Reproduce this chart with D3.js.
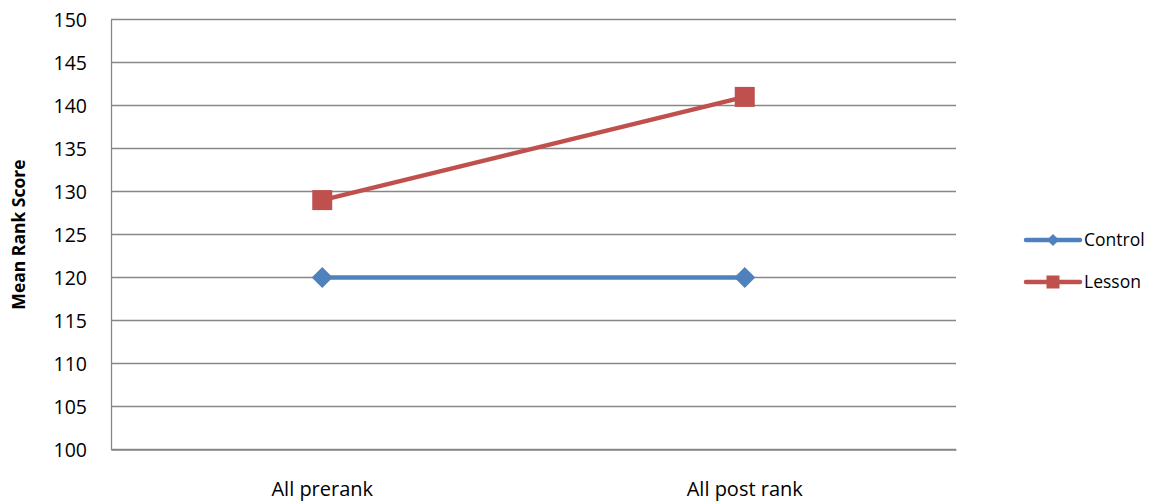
<!DOCTYPE html>
<html>
<head>
<meta charset="utf-8">
<script src="https://cdn.jsdelivr.net/npm/d3@7"></script>
<style>
  html, body { margin: 0; padding: 0; background: #fff; }
  svg text { font-family: "Open Sans", sans-serif; fill: #000; }
</style>
</head>
<body>
<svg id="chart" width="1150" height="502"></svg>
<script>
// Mean rank scores before and after the lesson
const categories = ["All prerank", "All post rank"];
const controlValues = [120, 120];
const lessonValues = [129, 141];
const yTicks = [100, 105, 110, 115, 120, 125, 130, 135, 140, 145, 150];
const seriesNames = ["Control", "Lesson"];

const series = [
  { name: seriesNames[0], values: controlValues, color: "#4F81BD", marker: "diamond" },
  { name: seriesNames[1], values: lessonValues, color: "#C0504D", marker: "square" }
];

const svg = d3.select("#chart");
const plot = { left: 111, right: 956, top: 19.5, bottom: 449.5 };

const x = d3.scaleBand().domain(categories).range([plot.left, plot.right]);
const y = d3.scaleLinear().domain([100, 150]).range([plot.bottom, plot.top]);

// horizontal gridlines
svg.append("g")
  .selectAll("line")
  .data(yTicks)
  .join("line")
  .attr("x1", plot.left)
  .attr("x2", plot.right)
  .attr("y1", d => y(d))
  .attr("y2", d => y(d))
  .attr("stroke", "#878787")
  .attr("stroke-width", 1.3);

// y axis
const yAxis = svg.append("g")
  .attr("transform", `translate(${plot.left},0)`)
  .call(d3.axisLeft(y).tickValues(yTicks).tickSize(0).tickPadding(24));
yAxis.select(".domain").attr("stroke", "#878787").attr("stroke-width", 1.3);
yAxis.selectAll("text").style("font-size", "19.5px").attr("dy", "0.36em");

// x axis
const xAxis = svg.append("g")
  .attr("transform", `translate(0,${plot.bottom})`)
  .call(d3.axisBottom(x).tickSize(0).tickPadding(32));
xAxis.select(".domain").attr("stroke", "#878787").attr("stroke-width", 1.3);
xAxis.selectAll("text").style("font-size", "20px");

// y axis title
svg.append("text")
  .attr("transform", `translate(25,${(plot.top + plot.bottom) / 2}) rotate(-90)`)
  .attr("text-anchor", "middle")
  .style("font-size", "17.5px")
  .style("font-weight", "bold")
  .text("Mean Rank Score");

const cx = d => x(d) + x.bandwidth() / 2;
const line = d3.line().x(d => cx(d.cat)).y(d => y(d.v));

function drawMarker(g, type, size, color) {
  if (type === "diamond") {
    g.append("path")
      .attr("d", `M0,${-size}L${size},0L0,${size}L${-size},0Z`)
      .attr("fill", color);
  } else {
    g.append("rect")
      .attr("x", -size).attr("y", -size)
      .attr("width", size * 2).attr("height", size * 2)
      .attr("fill", color);
  }
}

series.forEach(s => {
  const pts = categories.map((c, i) => ({ cat: c, v: s.values[i] }));
  svg.append("path")
    .datum(pts)
    .attr("d", line)
    .attr("fill", "none")
    .attr("stroke", s.color)
    .attr("stroke-width", 4.5)
    .attr("stroke-linejoin", "round");
  pts.forEach(p => {
    const g = svg.append("g").attr("transform", `translate(${cx(p.cat)},${y(p.v)})`);
    drawMarker(g, s.marker, s.marker === "diamond" ? 10.5 : 10, s.color);
  });
});

// legend
const legend = svg.append("g");
series.forEach((s, i) => {
  const ly = 240 + i * 42;
  legend.append("line")
    .attr("x1", 1026).attr("x2", 1080)
    .attr("y1", ly).attr("y2", ly)
    .attr("stroke", s.color)
    .attr("stroke-width", 4.5)
    .attr("stroke-linecap", "round");
  const g = legend.append("g").attr("transform", `translate(1053,${ly})`);
  drawMarker(g, s.marker, s.marker === "diamond" ? 6 : 6.5, s.color);
  legend.append("text")
    .attr("x", 1084).attr("y", ly)
    .attr("dy", "0.36em")
    .style("font-size", "17.5px")
    .text(s.name);
});
</script>
</body>
</html>
